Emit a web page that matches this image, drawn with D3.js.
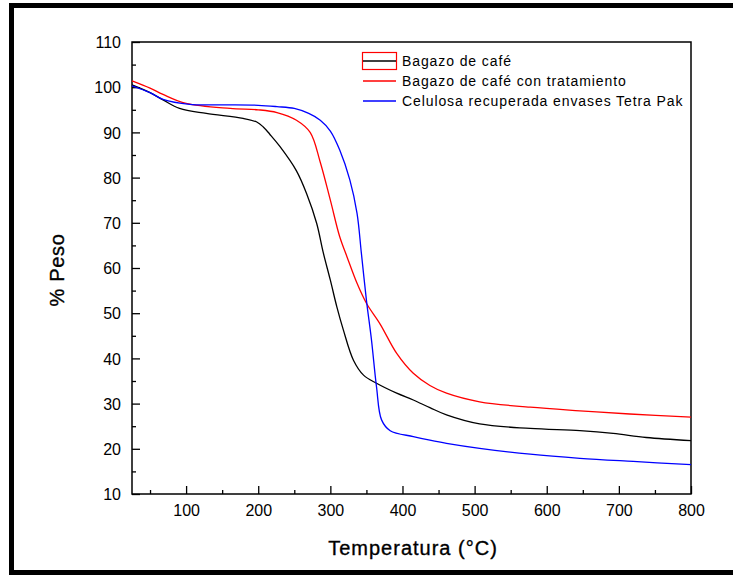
<!DOCTYPE html>
<html>
<head>
<meta charset="utf-8">
<script src="https://cdn.jsdelivr.net/npm/d3@7"></script>
<style>
  body { margin: 0; background: #fff; }
  svg { display: block; font-family: "Liberation Sans", Arial, sans-serif; }
</style>
</head>
<body>
<div id="chart"></div>
<script>
// temperature (°C) / weight (%) pairs
const bagazo = [
  [25, 100.5], [50, 98.8], [68, 97.2], [91, 95.3], [128, 94.2], [179, 93.1],
  [198, 92.3], [207, 91.2], [216, 89.6], [230, 86.9], [253, 81.5], [267, 76.5],
  [281, 69.9], [290, 63.5], [300, 57.3], [309, 51.4], [318, 46.3], [332, 39.6],
  [346, 36.3], [364, 34.5], [392, 32.3], [415, 30.8], [438, 29.1], [461, 27.5],
  [507, 25.5], [577, 24.5], [646, 24.0], [692, 23.4], [738, 22.5], [800, 21.8]
];
const bagazoTratado = [
  [25, 101.4], [50, 99.8], [68, 98.4], [100, 96.4], [161, 95.3], [200, 95.0],
  [226, 94.4], [253, 92.7], [272, 90.0], [286, 83.4], [300, 75.0], [313, 66.9],
  [323, 62.5], [337, 56.6], [350, 52.2], [369, 47.6], [392, 41.1], [415, 36.7],
  [438, 34.0], [461, 32.3], [507, 30.4], [577, 29.2], [646, 28.4], [715, 27.7],
  [800, 27.0]
];
const celulosa = [
  [25, 100.3], [50, 98.8], [68, 97.3], [105, 96.2], [150, 96.1], [200, 96.0],
  [226, 95.7], [250, 95.3], [270, 94.2], [286, 92.7], [300, 90.3], [313, 86.1],
  [327, 79.5], [337, 72.1], [343, 63.3], [350, 52.9], [357, 44.1], [364, 33.7],
  [371, 26.4], [383, 24.0], [415, 22.7], [438, 21.9], [461, 21.2], [507, 20.1],
  [577, 18.8], [646, 17.9], [720, 17.2], [800, 16.5]
];
const seriesNames = ["Bagazo de café", "Bagazo de café con tratamiento", "Celulosa recuperada envases Tetra Pak"];
const seriesColors = ["#000000", "#ff0000", "#0000ff"];
const xTicks = [100, 200, 300, 400, 500, 600, 700, 800];
const yTicks = [10, 20, 30, 40, 50, 60, 70, 80, 90, 100, 110];

const width = 733, height = 575;
const margin = { left: 132, top: 42, right: 733 - 691, bottom: 575 - 494 };

const svg = d3.select("#chart").append("svg")
  .attr("width", width)
  .attr("height", height);

// outer frame
svg.append("rect")
  .attr("x", 11.5).attr("y", 5.5)
  .attr("width", 730).attr("height", 567)
  .attr("fill", "none")
  .attr("stroke", "#000")
  .attr("stroke-width", 5);

const x = d3.scaleLinear().domain([25, 800]).range([margin.left, width - margin.right]);
const y = d3.scaleLinear().domain([10, 110]).range([height - margin.bottom, margin.top]);

// plot box
svg.append("rect")
  .attr("x", x(25)).attr("y", y(110))
  .attr("width", x(800) - x(25)).attr("height", y(10) - y(110))
  .attr("fill", "none")
  .attr("stroke", "#000")
  .attr("stroke-width", 1.5);

// x axis (ticks inward)
const xAxis = svg.append("g").attr("transform", `translate(0,${y(10)})`);
xAxis.call(d3.axisBottom(x).tickValues(d3.range(50, 801, 50)).tickSize(0).tickFormat(""))
  .call(g => g.select(".domain").remove());
xAxis.selectAll(".tick line")
  .attr("y2", d => d % 100 === 0 ? -8 : -4)
  .attr("stroke-width", 1.3);
xAxis.selectAll(".tick")
  .filter(d => xTicks.includes(d))
  .append("text")
  .attr("y", 22)
  .attr("fill", "#000")
  .attr("font-size", 16)
  .attr("text-anchor", "middle")
  .text(d => d);

// y axis (ticks inward)
const yAxis = svg.append("g").attr("transform", `translate(${x(25)},0)`);
yAxis.call(d3.axisLeft(y).tickValues(d3.range(10, 111, 5)).tickSize(0).tickFormat(""))
  .call(g => g.select(".domain").remove());
yAxis.selectAll(".tick line")
  .attr("x2", d => d % 10 === 0 ? 8 : 4)
  .attr("stroke-width", 1.3);
yAxis.selectAll(".tick")
  .filter(d => yTicks.includes(d))
  .append("text")
  .attr("x", -11)
  .attr("dy", "0.35em")
  .attr("fill", "#000")
  .attr("font-size", 16)
  .attr("text-anchor", "end")
  .text(d => d);

// curves
const line = d3.line()
  .x(d => x(d[0]))
  .y(d => y(d[1]))
  .curve(d3.curveCatmullRom.alpha(0.5));

[bagazo, bagazoTratado, celulosa].forEach((s, i) => {
  svg.append("path")
    .datum(s)
    .attr("fill", "none")
    .attr("stroke", seriesColors[i])
    .attr("stroke-width", 1.3)
    .attr("d", line);
});

// legend
const legend = svg.append("g").attr("transform", "translate(362,61)");
legend.append("rect")
  .attr("x", 0.5).attr("y", -8.5)
  .attr("width", 34).attr("height", 17)
  .attr("fill", "none")
  .attr("stroke", "#ff0000")
  .attr("stroke-width", 1.2);
seriesNames.forEach((name, i) => {
  const row = legend.append("g").attr("transform", `translate(0,${i * 20})`);
  row.append("line")
    .attr("x1", 1).attr("x2", 34)
    .attr("stroke", seriesColors[i])
    .attr("stroke-width", 1.3);
  row.append("text")
    .attr("x", 40)
    .attr("dy", "0.35em")
    .attr("font-size", 14)
    .attr("letter-spacing", 0.9)
    .attr("fill", "#000")
    .text(name);
});

// axis titles
svg.append("text")
  .attr("x", 413).attr("y", 555)
  .attr("text-anchor", "middle")
  .attr("font-size", 20)
  .attr("letter-spacing", 1)
  .attr("stroke", "#000")
  .attr("stroke-width", 0.35)
  .attr("fill", "#000")
  .text("Temperatura (°C)");

svg.append("text")
  .attr("transform", "translate(64,270) rotate(-90)")
  .attr("text-anchor", "middle")
  .attr("font-size", 20)
  .attr("letter-spacing", 0.7)
  .attr("stroke", "#000")
  .attr("stroke-width", 0.35)
  .attr("fill", "#000")
  .text("% Peso");
</script>
</body>
</html>
